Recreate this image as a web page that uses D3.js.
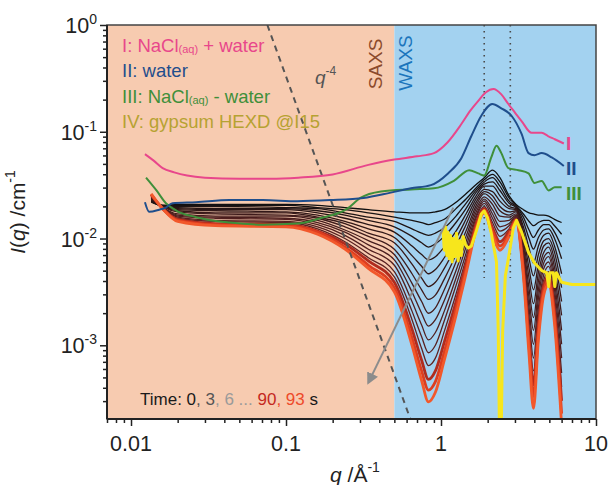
<!DOCTYPE html>
<html><head><meta charset="utf-8">
<script src="https://cdn.jsdelivr.net/npm/d3@7"></script>
<style>body{margin:0;background:#fff}svg{display:block;font-family:"Liberation Sans",Arial,sans-serif}</style>
</head><body><svg id="c" width="608" height="485"></svg>
<script>
// ---------- data (intensities stored as log10 I / cm^-1) ----------
const qDomain = [0.007, 10];
const iDomain = [2.04e-4, 1];
const xTickValues = [0.01, 0.1, 1, 10];
const xTickLabels = ["0.01", "0.1", "1", "10"];
const yTickExps = [0, -1, -2, -3];
const saxsWaxsBoundary = 0.5;
const dottedQ = [1.9, 2.8];
const q4Coef = 3.3e-5;

const pinkQ = [0.0123,0.014,0.016,0.019,0.023,0.03,0.05,0.08,0.12,0.2,0.34,0.5,0.7,0.9,1.1,1.35,1.55,1.74,1.95,2.18,2.45,2.72,3.0,3.31,3.84,4.46,4.9,5.42,6.2];
const pinkLog = [-1.21,-1.27,-1.34,-1.38,-1.41,-1.43,-1.44,-1.44,-1.43,-1.40,-1.31,-1.26,-1.23,-1.20,-1.10,-0.93,-0.80,-0.71,-0.63,-0.60,-0.65,-0.74,-0.82,-0.90,-1.01,-1.01,-1.04,-1.07,-1.11];

const blueQ = [0.0123,0.0131,0.0152,0.0168,0.0185,0.0263,0.0433,0.0709,0.118,0.193,0.316,0.474,0.64,0.86,1.11,1.35,1.57,1.82,2.14,2.45,2.85,3.31,3.67,4.01,4.46,5.18,6.2];
const blueLog = [-1.66,-1.75,-1.73,-1.71,-1.67,-1.66,-1.64,-1.64,-1.65,-1.64,-1.62,-1.57,-1.53,-1.50,-1.39,-1.25,-1.04,-0.85,-0.74,-0.78,-0.85,-1.02,-1.20,-1.22,-1.20,-1.24,-1.32];

const greenQ = [0.0125,0.0146,0.0168,0.0197,0.0263,0.0433,0.0709,0.118,0.166,0.249,0.302,0.41,0.64,0.9,1.21,1.52,1.74,1.90,2.11,2.28,2.45,2.72,3.16,3.67,4.01,4.46,4.95,5.42,6.0];
const greenLog = [-1.43,-1.55,-1.67,-1.74,-1.80,-1.85,-1.87,-1.86,-1.81,-1.72,-1.62,-1.56,-1.54,-1.53,-1.46,-1.36,-1.39,-1.41,-1.24,-1.13,-1.20,-1.34,-1.36,-1.39,-1.48,-1.46,-1.55,-1.52,-1.52];

const yellowQ = [1.03,1.05,1.07,1.09,1.11,1.13,1.15,1.18,1.20,1.23,1.26,1.29,1.32,1.35,1.39,1.44,1.50,1.57,1.69,1.82,1.90,2.0,2.11,2.28,2.34,2.38,2.45,2.50,2.60,2.72,2.93,3.07,3.31,3.67,4.01,4.46,4.80,4.95,5.05,5.3,5.42,5.55,6.0,7.0,10];
const yellowLog = [-1.91,-2.11,-1.89,-2.16,-1.94,-2.19,-1.97,-2.22,-2.00,-2.17,-1.95,-2.21,-2.02,-2.16,-1.98,-2.06,-2.09,-2.07,-1.93,-1.77,-1.74,-1.81,-1.95,-2.22,-2.86,-3.75,-3.75,-2.86,-2.35,-2.19,-1.90,-1.83,-1.94,-2.13,-2.23,-2.30,-2.32,-2.45,-2.32,-2.32,-2.45,-2.32,-2.41,-2.43,-2.43];

// time-resolved curves, t = 0 s (first row) ... 93 s (last row)
const timeQ = [0.0135,0.016,0.02,0.035,0.1,0.16,0.24,0.34,0.5,0.65,0.75,0.83,0.92,1.05,1.25,1.45,1.7,1.9,2.15,2.4,2.75,3.05,3.4,3.7,3.95,4.25,4.6,4.95,5.4,6.0];
const timeLog = [
[-1.66,-1.69,-1.68,-1.68,-1.68,-1.69,-1.71,-1.73,-1.75,-1.76,-1.76,-1.76,-1.75,-1.73,-1.66,-1.58,-1.49,-1.43,-1.36,-1.43,-1.60,-1.68,-1.73,-1.76,-1.77,-1.78,-1.78,-1.79,-1.82,-1.85],
[-1.65,-1.69,-1.69,-1.69,-1.69,-1.71,-1.73,-1.76,-1.80,-1.83,-1.85,-1.87,-1.85,-1.82,-1.72,-1.63,-1.52,-1.45,-1.40,-1.47,-1.62,-1.69,-1.77,-1.84,-1.88,-1.85,-1.83,-1.83,-1.88,-1.96],
[-1.65,-1.69,-1.70,-1.70,-1.71,-1.72,-1.76,-1.80,-1.84,-1.91,-1.95,-1.97,-1.95,-1.90,-1.79,-1.67,-1.54,-1.47,-1.43,-1.51,-1.65,-1.70,-1.80,-1.92,-1.99,-1.92,-1.87,-1.87,-1.94,-2.08],
[-1.65,-1.70,-1.71,-1.72,-1.72,-1.74,-1.78,-1.83,-1.89,-1.98,-2.04,-2.08,-2.05,-1.98,-1.85,-1.72,-1.56,-1.49,-1.47,-1.55,-1.67,-1.71,-1.84,-2.00,-2.10,-1.99,-1.92,-1.91,-2.00,-2.19],
[-1.64,-1.70,-1.72,-1.73,-1.73,-1.76,-1.81,-1.87,-1.94,-2.07,-2.15,-2.20,-2.17,-2.08,-1.93,-1.77,-1.59,-1.51,-1.51,-1.60,-1.70,-1.72,-1.89,-2.09,-2.23,-2.07,-1.97,-1.95,-2.07,-2.33],
[-1.63,-1.70,-1.73,-1.74,-1.75,-1.78,-1.84,-1.91,-1.99,-2.16,-2.26,-2.33,-2.29,-2.18,-2.00,-1.82,-1.62,-1.54,-1.56,-1.65,-1.72,-1.73,-1.93,-2.19,-2.35,-2.15,-2.02,-2.00,-2.13,-2.46],
[-1.63,-1.70,-1.74,-1.76,-1.76,-1.80,-1.86,-1.95,-2.04,-2.24,-2.37,-2.45,-2.41,-2.28,-2.07,-1.87,-1.65,-1.56,-1.60,-1.70,-1.75,-1.74,-1.97,-2.28,-2.48,-2.24,-2.07,-2.04,-2.20,-2.59],
[-1.62,-1.70,-1.75,-1.77,-1.78,-1.81,-1.89,-1.98,-2.10,-2.33,-2.48,-2.57,-2.53,-2.38,-2.15,-1.93,-1.68,-1.58,-1.64,-1.74,-1.78,-1.75,-2.02,-2.37,-2.61,-2.32,-2.13,-2.08,-2.27,-2.72],
[-1.62,-1.71,-1.77,-1.79,-1.79,-1.83,-1.92,-2.02,-2.15,-2.42,-2.59,-2.70,-2.65,-2.48,-2.22,-1.98,-1.71,-1.61,-1.68,-1.79,-1.80,-1.77,-2.06,-2.47,-2.74,-2.40,-2.18,-2.13,-2.34,-2.86],
[-1.61,-1.71,-1.78,-1.80,-1.81,-1.85,-1.94,-2.06,-2.20,-2.50,-2.70,-2.82,-2.76,-2.58,-2.30,-2.03,-1.74,-1.63,-1.73,-1.84,-1.83,-1.78,-2.10,-2.56,-2.86,-2.48,-2.23,-2.17,-2.41,-2.99],
[-1.61,-1.71,-1.79,-1.81,-1.82,-1.87,-1.97,-2.10,-2.25,-2.59,-2.81,-2.95,-2.88,-2.68,-2.37,-2.08,-1.77,-1.65,-1.77,-1.89,-1.86,-1.79,-2.15,-2.65,-2.99,-2.56,-2.28,-2.22,-2.48,-3.12],
[-1.60,-1.71,-1.80,-1.83,-1.84,-1.89,-2.00,-2.14,-2.31,-2.68,-2.92,-3.07,-3.00,-2.77,-2.44,-2.14,-1.79,-1.67,-1.81,-1.93,-1.88,-1.80,-2.19,-2.74,-3.12,-2.65,-2.34,-2.26,-2.55,-3.26],
[-1.60,-1.71,-1.81,-1.84,-1.85,-1.91,-2.03,-2.18,-2.36,-2.76,-3.03,-3.19,-3.12,-2.87,-2.52,-2.19,-1.82,-1.70,-1.85,-1.98,-1.91,-1.81,-2.23,-2.84,-3.24,-2.73,-2.39,-2.31,-2.61,-3.39],
[-1.59,-1.72,-1.82,-1.86,-1.87,-1.93,-2.05,-2.21,-2.41,-2.85,-3.14,-3.32,-3.24,-2.97,-2.59,-2.24,-1.85,-1.72,-1.90,-2.03,-1.93,-1.82,-2.28,-2.93,-3.37,-2.81,-2.44,-2.35,-2.68,-3.52],
[-1.59,-1.72,-1.83,-1.87,-1.88,-1.94,-2.08,-2.25,-2.46,-2.93,-3.24,-3.42,-3.34,-3.06,-2.66,-2.29,-1.88,-1.74,-1.93,-2.07,-1.96,-1.83,-2.31,-3.01,-3.48,-2.88,-2.49,-2.39,-2.74,-3.64],
[-1.58,-1.72,-1.84,-1.88,-1.89,-1.96,-2.10,-2.28,-2.50,-3.00,-3.33,-3.53,-3.44,-3.14,-2.72,-2.33,-1.90,-1.76,-1.97,-2.11,-1.98,-1.84,-2.35,-3.09,-3.59,-2.95,-2.53,-2.43,-2.80,-3.75]
];

const arrowFrom = [1.2, -1.71], arrowTo = [0.34, -3.35];

// ---------- drawing ----------
const L = 107, R = 596, T = 25, B = 419;
const svg = d3.select("#c");
const x = d3.scaleLog().domain(qDomain).range([L, R]);
const y = d3.scaleLog().domain(iDomain).range([B, T]);
const P = v => Math.pow(10, v);

const defs = svg.append("defs");
defs.append("clipPath").attr("id", "clip").append("rect")
  .attr("x", L).attr("y", T).attr("width", R - L).attr("height", B - T);
defs.append("marker").attr("id", "ah").attr("viewBox", "0 0 10 10")
  .attr("refX", 8).attr("refY", 5).attr("markerWidth", 6).attr("markerHeight", 6)
  .attr("orient", "auto").append("path").attr("d", "M0,0L10,5L0,10Z").attr("fill", "#8c8c8c");

// backgrounds
svg.append("rect").attr("x", L).attr("y", T).attr("width", x(saxsWaxsBoundary) - L).attr("height", B - T).attr("fill", "#f7cbb0");
svg.append("rect").attr("x", x(saxsWaxsBoundary)).attr("y", T).attr("width", R - x(saxsWaxsBoundary)).attr("height", B - T).attr("fill", "#a3d2f0");

const g = svg.append("g").attr("clip-path", "url(#clip)");
const mk = (qs, ls, curve) => d3.line().x((d, i) => x(qs[i])).y(d => y(P(d))).curve(curve || d3.curveMonotoneX)(ls);

// time-resolved family
const nT = timeLog.length;
const darkCol = d3.interpolateRgb("#101010", "#5e2222");
const redCols = ["#b02c1e", "#dd3e20", "#f2582b"];
timeLog.forEach((row, k) => {
  const isRed = k >= nT - 3;
  g.append("path").attr("d", mk(timeQ, row)).attr("fill", "none")
    .attr("stroke", isRed ? redCols[k - (nT - 3)] : darkCol(k / (nT - 4)))
    .attr("stroke-width", isRed ? 2.8 : 1.3).attr("stroke-linejoin", "round");
});

// q^-4 guide
const q4a = Math.pow(q4Coef / iDomain[1], 0.25), q4b = Math.pow(q4Coef / iDomain[0], 0.25);
g.append("line").attr("x1", x(q4a)).attr("y1", y(q4Coef / Math.pow(q4a, 4)))
  .attr("x2", x(q4b)).attr("y2", y(q4Coef / Math.pow(q4b, 4)))
  .attr("stroke", "#555").attr("stroke-width", 2).attr("stroke-dasharray", "6,5");

// dotted markers
dottedQ.forEach(q => g.append("line").attr("x1", x(q)).attr("x2", x(q)).attr("y1", y(1)).attr("y2", y(P(-2.37)))
  .attr("stroke", "#4a4a4a").attr("stroke-width", 1.6).attr("stroke-dasharray", "1.5,4.5"));

// reference curves
g.append("path").attr("d", mk(greenQ, greenLog)).attr("fill", "none").attr("stroke", "#3f8f3a").attr("stroke-width", 2);
g.append("path").attr("d", mk(blueQ, blueLog)).attr("fill", "none").attr("stroke", "#1f4e8c").attr("stroke-width", 2);
g.append("path").attr("d", mk(pinkQ, pinkLog)).attr("fill", "none").attr("stroke", "#e8478b").attr("stroke-width", 2);
g.append("path").attr("d", mk(yellowQ, yellowLog, d3.curveLinear)).attr("fill", "none").attr("stroke", "#f7e61c").attr("stroke-width", 3).attr("stroke-linejoin", "round");

// arrow
svg.append("line").attr("x1", x(arrowFrom[0])).attr("y1", y(P(arrowFrom[1])))
  .attr("x2", x(arrowTo[0])).attr("y2", y(P(arrowTo[1])))
  .attr("stroke", "#8c8c8c").attr("stroke-width", 2).attr("marker-end", "url(#ah)");

// frame
svg.append("rect").attr("x", L).attr("y", T).attr("width", R - L).attr("height", B - T)
  .attr("fill", "none").attr("stroke", "#444").attr("stroke-width", 1.5);

// axes ticks
const xMinor = x.ticks().filter(v => !xTickValues.some(m => Math.abs(m - v) < 1e-9));
const yMajor = yTickExps.map(P);
const yMinor = y.ticks().filter(v => !yMajor.some(m => Math.abs(m - v) / m < 1e-6));
const axStyle = s => { s.select(".domain").remove(); s.selectAll("line").attr("stroke", "#222").attr("stroke-width", 1.5); s.selectAll("text").remove(); };
svg.append("g").attr("transform", `translate(0,${B})`).call(d3.axisBottom(x).tickValues(xTickValues).tickSize(7).tickFormat("")).call(axStyle);
svg.append("g").attr("transform", `translate(0,${B})`).call(d3.axisBottom(x).tickValues(xMinor).tickSize(4).tickFormat("")).call(axStyle);
svg.append("g").attr("transform", `translate(${L},0)`).call(d3.axisLeft(y).tickValues(yMajor).tickSize(7).tickFormat("")).call(axStyle);
svg.append("g").attr("transform", `translate(${L},0)`).call(d3.axisLeft(y).tickValues(yMinor).tickSize(4).tickFormat("")).call(axStyle);
svg.append("line").attr("x1", L).attr("x2", R).attr("y1", B).attr("y2", B).attr("stroke", "#222").attr("stroke-width", 2);
svg.append("line").attr("x1", L).attr("x2", L).attr("y1", T).attr("y2", B).attr("stroke", "#222").attr("stroke-width", 2);

// tick labels
xTickValues.forEach((v, i) => svg.append("text").attr("x", x(v)).attr("y", 451).attr("text-anchor", "middle")
  .attr("font-size", 21.5).attr("fill", "#222").text(xTickLabels[i]));
yTickExps.forEach(e => {
  const t = svg.append("text").attr("x", 97).attr("y", y(P(e)) + 8).attr("text-anchor", "end").attr("font-size", 21.5).attr("fill", "#222");
  t.append("tspan").text("10");
  t.append("tspan").attr("font-size", 14).attr("dy", -9).text(e === 0 ? "0" : "-" + (-e));
});

// axis titles
const xt = svg.append("text").attr("x", 355).attr("y", 482).attr("text-anchor", "middle").attr("font-size", 21).attr("fill", "#222");
xt.append("tspan").attr("font-style", "italic").text("q");
xt.append("tspan").text(" /Å");
xt.append("tspan").attr("font-size", 14).attr("dy", -10).text("-1");
const yt = svg.append("text").attr("transform", "translate(25,212) rotate(-90)").attr("text-anchor", "middle").attr("font-size", 21).attr("fill", "#222");
yt.append("tspan").attr("font-style", "italic").text("I");
yt.append("tspan").text("(");
yt.append("tspan").attr("font-style", "italic").text("q");
yt.append("tspan").text(") /cm");
yt.append("tspan").attr("font-size", 14).attr("dy", -10).text("-1");

// legend
const legend = [
  {c: "#e8478b", parts: [["I: NaCl", 0], ["(aq)", 1], [" + water", 0]]},
  {c: "#1f4e8c", parts: [["II: water", 0]]},
  {c: "#3f8f3a", parts: [["III: NaCl", 0], ["(aq)", 1], [" - water", 0]]},
  {c: "#b6a232", parts: [["IV: gypsum HEXD @I15", 0]]}
];
legend.forEach((d, i) => {
  const t = svg.append("text").attr("x", 122).attr("y", 52 + i * 25.3).attr("font-size", 18.5).attr("fill", d.c);
  let prevSmall = false;
  d.parts.forEach(p => {
    const s = t.append("tspan").text(p[0]);
    if (p[1]) { s.attr("font-size", 11).attr("dy", 1); prevSmall = true; }
    else if (prevSmall) { s.attr("dy", -1); prevSmall = false; }
  });
});

// right labels
[["I", "#e8478b", 150], ["II", "#1f4e8c", 175], ["III", "#3f8f3a", 200]].forEach(d =>
  svg.append("text").attr("x", 566).attr("y", d[2]).attr("font-size", 19).attr("font-weight", "bold").attr("fill", d[1]).text(d[0]));

// q^-4 label
const ql = svg.append("text").attr("x", 315).attr("y", 84).attr("font-size", 19).attr("fill", "#555");
ql.append("tspan").attr("font-style", "italic").text("q");
ql.append("tspan").attr("font-size", 12).attr("dy", -9).text("-4");

// SAXS / WAXS
svg.append("text").attr("transform", "translate(382,64) rotate(-90)").attr("text-anchor", "middle").attr("font-size", 19).attr("fill", "#8b4a2b").text("SAXS");
svg.append("text").attr("transform", "translate(412,63) rotate(-90)").attr("text-anchor", "middle").attr("font-size", 19).attr("fill", "#1b75bc").text("WAXS");

// time annotation
const tt = svg.append("text").attr("x", 140).attr("y", 405).attr("font-size", 17);
[["Time: 0", "#1a1a1a"], [", 3", "#555"], [", 6 ...", "#9a9a9a"], [" 90", "#c4281e"], [", 93", "#ee4a2a"], [" s", "#1a1a1a"]]
  .forEach(p => tt.append("tspan").attr("fill", p[1]).text(p[0]));
</script></body></html>
